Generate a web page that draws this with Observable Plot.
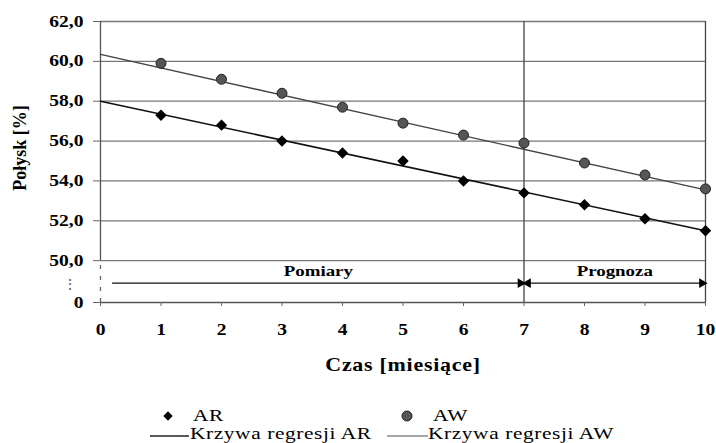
<!DOCTYPE html>
<html><head><meta charset="utf-8">
<script src="https://cdn.jsdelivr.net/npm/d3@7"></script>
<script src="https://cdn.jsdelivr.net/npm/@observablehq/plot@0.6"></script>
<style>
body{margin:0;background:#fff;}
#wrap{width:716px;height:443px;position:relative;overflow:hidden;background:#fff;}
#wrap svg{display:block;}
#wrap svg, #wrap svg text{font-family:"Liberation Serif","Times New Roman","DejaVu Serif",serif !important;}
</style></head><body><div id="wrap"></div>
<script>
// ---- data ----
const months = [1, 2, 3, 4, 5, 6, 7, 8, 9, 10];
const arValues = [57.3, 56.8, 56.0, 55.4, 55.0, 54.0, 53.4, 52.8, 52.1, 51.5];
const awValues = [59.9, 59.1, 58.4, 57.7, 56.9, 56.3, 55.9, 54.9, 54.3, 53.6];
const regressionX = [0, 10];
const regressionAR = [58.0, 51.5];
const regressionAW = [60.35, 53.55];
const yTickValues = [50, 52, 54, 56, 58, 60, 62];
const xTickValues = [0, 1, 2, 3, 4, 5, 6, 7, 8, 9, 10];
const phaseNames = ["Pomiary", "Prognoza"];
const phaseStarts = [0.2, 7];
const phaseEnds = [7, 10];
const seriesNames = ["AR", "AW"];
const regressionNames = ["Krzywa regresji AR", "Krzywa regresji AW"];
const xLabel = "Czas [miesiące]";
const yLabel = "Połysk [%]";

// broken axis: the "0" tick sits just below 50,0
const zeroLevel = 47.9;
const arrowLevel = 48.87;
const phaseTextLevel = 49.47;
const stretch = 1.22; // the reference's lettering is horizontally widened

const ar = months.map((m, i) => ({x: m, y: arValues[i]}));
const aw = months.map((m, i) => ({x: m, y: awValues[i]}));
const regAR = regressionX.map((x, i) => ({x, y: regressionAR[i]}));
const regAW = regressionX.map((x, i) => ({x, y: regressionAW[i]}));
const phases = phaseNames.map((name, i) => ({name, from: phaseStarts[i], to: phaseEnds[i], mid: (phaseStarts[i] + phaseEnds[i]) / 2}));

const fmt = d => d === zeroLevel ? "0" : d.toFixed(1).replace(".", ",");

const plot = Plot.plot({
  width: 716, height: 383,
  marginLeft: 100, marginRight: 11, marginTop: 21, marginBottom: 81,
  x: {domain: [0, 10]},
  y: {domain: [zeroLevel, 62]},
  style: {background: "#fff", color: "#000"},
  marks: [
    Plot.ruleY(yTickValues, {x1: 0, x2: 10, stroke: "#777", strokeWidth: 1.3}),
    Plot.ruleY([zeroLevel], {x1: 0, x2: 10, stroke: "#555", strokeWidth: 1.3}),
    Plot.ruleX([0], {y1: 50, y2: 62, stroke: "#555", strokeWidth: 1.3}),
    Plot.ruleX([0], {y1: zeroLevel, y2: 50, stroke: "#666", strokeWidth: 1.3, strokeDasharray: "4,7"}),
    Plot.ruleX([7, 10], {y1: zeroLevel, y2: 62, stroke: "#444", strokeWidth: 1.3}),
    Plot.axisY({ticks: [zeroLevel, ...yTickValues], tickFormat: fmt, tickSize: 7, tickPadding: 10,
      fontSize: 16, fontWeight: "bold", label: null, stroke: "#666"}),
    Plot.axisX({ticks: xTickValues, tickSize: 4, tickPadding: 17, fontSize: 16, fontWeight: "bold", label: null, stroke: "#666"}),
    Plot.text(["⋮"], {frameAnchor: "bottom-left", dx: -38, dy: -14, fontSize: 14, fill: "#555"}),
    // regression lines
    Plot.line(regAW, {x: "x", y: "y", stroke: "#444", strokeWidth: 1.4}),
    Plot.line(regAR, {x: "x", y: "y", stroke: "#111", strokeWidth: 1.6}),
    // data points
    Plot.dot(aw, {x: "x", y: "y", r: 5, fill: "#555", stroke: "#222", strokeWidth: 1}),
    Plot.dot(ar, {x: "x", y: "y", r: 4.2, symbol: "diamond2", fill: "#000", stroke: "#000"}),
    // phase arrows
    Plot.ruleY(phases, {x1: "from", x2: "to", y: arrowLevel, stroke: "#111", strokeWidth: 1.3}),
    Plot.dot(phases, {x: "to", y: arrowLevel, symbol: "triangle", rotate: 90, r: 3.6, fill: "#000", dx: -3.5}),
    Plot.dot(phases.filter(p => p.from > 1), {x: "from", y: arrowLevel, symbol: "triangle", rotate: -90, r: 3.6, fill: "#000", dx: 4}),
    Plot.text(phases, {x: "mid", y: phaseTextLevel, text: "name", fontSize: 15.5, fontWeight: "bold"}),
    // axis titles
    Plot.text([xLabel], {frameAnchor: "bottom", dy: 68, fontSize: 18, fontWeight: "bold"}),
    Plot.text([yLabel], {frameAnchor: "left", textAnchor: "middle", rotate: -90, dx: -80, dy: -14, fontSize: 18, fontWeight: "bold"})
  ]
});
const sel = d3.select(plot);
sel.selectAll("text").each(function () {
  if (this.textContent === yLabel || this.textContent === "⋮") return;
  const t = this.getAttribute("transform") || "";
  this.setAttribute("transform", `${t} scale(${stretch},1)`);
});
sel.selectAll("text").filter(function () { return this.textContent === xLabel; }).style("letter-spacing", "0.6px");
document.getElementById("wrap").appendChild(plot);

// legend below the plot
const lg = d3.select("#wrap").append("svg").attr("width", 716).attr("height", 60)
  .style("font-size", "17.5px").style("letter-spacing", "0.5px");
const symDiamond = d3.symbol(d3.symbolDiamond2, Math.PI * 4.2 * 4.2)();
const symCircle = d3.symbol(d3.symbolCircle, Math.PI * 5 * 5)();
const legendText = (x, y, s) => lg.append("text").attr("transform", `translate(${x},${y}) scale(${stretch},1)`).text(s);
lg.append("path").attr("d", symDiamond).attr("transform", "translate(168,33)").attr("fill", "#000");
legendText(193, 38, seriesNames[0]);
lg.append("path").attr("d", symCircle).attr("transform", "translate(407,33)").attr("fill", "#555").attr("stroke", "#222");
legendText(433, 38, seriesNames[1]);
lg.append("line").attr("x1", 150).attr("x2", 189).attr("y1", 53).attr("y2", 53).attr("stroke", "#222").attr("stroke-width", 1.5);
legendText(190, 56, regressionNames[0]);
lg.append("line").attr("x1", 387).attr("x2", 428).attr("y1", 53).attr("y2", 53).attr("stroke", "#888").attr("stroke-width", 1.5);
legendText(428, 56, regressionNames[1]);
</script></body></html>
